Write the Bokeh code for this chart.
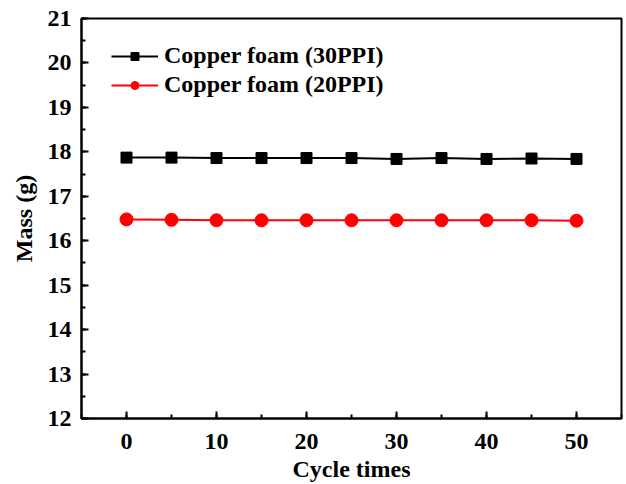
from bokeh.plotting import figure
from bokeh.models import Range1d, Legend, LegendItem, SingleIntervalTicker
from bokeh.embed import file_html
from bokeh.resources import INLINE

cycles = [0, 5, 10, 15, 20, 25, 30, 35, 40, 45, 50]
mass_30ppi = [17.87, 17.87, 17.86, 17.86, 17.86, 17.86, 17.84, 17.86, 17.84, 17.85, 17.84]
mass_20ppi = [16.48, 16.47, 16.46, 16.46, 16.46, 16.46, 16.46, 16.46, 16.46, 16.46, 16.45]
labels = ["Copper foam (30PPI)", "Copper foam (20PPI)"]

FONT = "Liberation Serif"

p = figure(width=626, height=484, output_backend="svg", toolbar_location=None,
           x_range=Range1d(-5, 55), y_range=Range1d(12, 21),
           min_border_left=81, min_border_right=5, min_border_top=18, min_border_bottom=64)

p.xgrid.visible = False
p.ygrid.visible = False
p.outline_line_color = "black"
p.outline_line_width = 2
p.outline_line_alpha = 1

l1 = p.line(cycles, mass_30ppi, line_color="black", line_width=2)
s1 = p.scatter(cycles, mass_30ppi, marker="square", size=11, fill_color="black", line_color="black")
l2 = p.line(cycles, mass_20ppi, line_color="red", line_width=2)
s2 = p.scatter(cycles, mass_20ppi, marker="circle", size=13, fill_color="red", line_color="red")

p.axis.axis_line_width = 2
p.axis.axis_line_color = "black"
p.axis.major_tick_in = 7
p.axis.major_tick_out = 0
p.axis.minor_tick_in = 4
p.axis.minor_tick_out = 0
p.axis.major_tick_line_width = 2
p.axis.minor_tick_line_width = 2
p.axis.major_tick_line_color = "black"
p.axis.minor_tick_line_color = "black"
p.axis.major_label_text_font = FONT
p.axis.major_label_text_font_style = "bold"
p.axis.major_label_text_font_size = "24px"
p.axis.major_label_text_color = "black"
p.axis.axis_label_text_font = FONT
p.axis.axis_label_text_font_style = "bold"
p.axis.axis_label_text_font_size = "24px"
p.axis.axis_label_text_color = "black"

p.xaxis[0].ticker = SingleIntervalTicker(interval=10, num_minor_ticks=2)
p.yaxis[0].ticker = SingleIntervalTicker(interval=1, num_minor_ticks=2)
p.xaxis.axis_label = "Cycle times"
p.yaxis.axis_label = "Mass (g)"
p.xaxis.major_label_standoff = 15
p.yaxis.major_label_standoff = 10
p.xaxis.axis_label_standoff = 4
p.yaxis.axis_label_standoff = 8

legend = Legend(items=[LegendItem(label=labels[0], renderers=[l1, s1]),
                       LegendItem(label=labels[1], renderers=[l2, s2])],
                location=(30, 320))
legend.border_line_alpha = 0
legend.background_fill_alpha = 0
legend.padding = 0
legend.margin = 0
legend.spacing = 2
legend.glyph_width = 47
legend.label_standoff = 6
legend.label_text_font = FONT
legend.label_text_font_style = "bold"
legend.label_text_font_size = "24px"
legend.label_text_color = "black"
p.add_layout(legend, "center")

open("out.html", "w").write(file_html(p, INLINE))
